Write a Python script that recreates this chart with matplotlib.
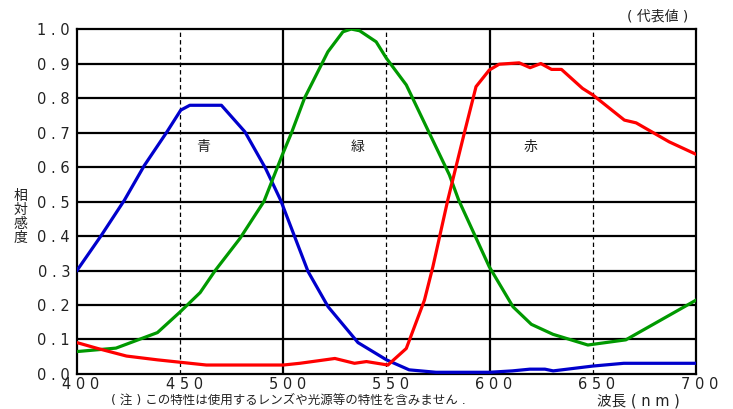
import matplotlib
matplotlib.use('Agg')
import matplotlib.pyplot as plt
from matplotlib.transforms import ScaledTranslation

plt.rcParams['font.family'] = ['DejaVu Sans', 'Noto Sans CJK JP']
JP = ['Noto Sans CJK JP', 'DejaVu Sans']

# spectral sensitivity (typical values)
blue_nm = [400, 411.6, 423, 432.6, 443.4, 450.3, 454.7, 470, 481.4, 491.4, 498.7,
           512, 521.7, 536.2, 550, 561, 574, 600, 611, 619.5, 626.8, 630.8, 650, 665, 700]
blue_val = [0.30, 0.40, 0.504, 0.604, 0.70, 0.765, 0.779, 0.779, 0.702, 0.596, 0.504,
            0.297, 0.195, 0.091, 0.041, 0.012, 0.005, 0.005, 0.009, 0.014, 0.014, 0.009, 0.023, 0.031, 0.031]

green_nm = [400, 418.9, 439, 450, 459.7, 467, 479, 490.6, 499.5, 503.9, 510.3, 521.6, 528.9,
            532.9, 537, 545, 550, 559.6, 570.8, 580.5, 585, 599.8, 611.3, 620.2, 630.7, 647.6, 666, 700]
green_val = [0.065, 0.075, 0.12, 0.18, 0.236, 0.30, 0.393, 0.50, 0.635, 0.698, 0.80, 0.934, 0.992,
             1.0, 0.995, 0.963, 0.915, 0.838, 0.698, 0.577, 0.504, 0.311, 0.195, 0.144, 0.115, 0.084, 0.099, 0.214]

red_nm = [400, 410, 424, 439, 462.7, 500, 508, 525, 534.5, 540.3, 550.7, 559.6, 568.4, 572.5,
          579.7, 587.7, 593.4, 599.8, 604.6, 614.3, 619.6, 624.8, 630, 634.8, 645, 650, 665.3, 671, 687, 700]
red_val = [0.091, 0.074, 0.052, 0.041, 0.026, 0.026, 0.031, 0.045, 0.031, 0.036, 0.026, 0.074, 0.214, 0.311,
           0.504, 0.698, 0.833, 0.881, 0.898, 0.902, 0.888, 0.90, 0.883, 0.883, 0.828, 0.809, 0.736, 0.728, 0.673, 0.637]

y_ticks = [0.0, 0.1, 0.2, 0.3, 0.4, 0.5, 0.6, 0.7, 0.8, 0.9, 1.0]
y_labels = ['0 . 0', '0 . 1', '0 . 2', '0 . 3', '0 . 4', '0 . 5', '0 . 6', '0 . 7', '0 . 8', '0 . 9', '1 . 0']
x_ticks = [400, 450, 500, 550, 600, 650, 700]
x_labels = ['4 0 0', '4 5 0', '5 0 0', '5 5 0', '6 0 0', '6 5 0', '7 0 0']

fig = plt.figure(figsize=(7.33, 4.09), dpi=100)
ax = fig.add_axes([0.105, 0.0856, 0.8445, 0.8434])
ax.set_xlim(400, 700)
ax.set_ylim(0, 1)

# grid
for yv in y_ticks[1:-1]:
    ax.axhline(yv, color='black', lw=1.6, zorder=1)
for xv in (500, 600):
    ax.axvline(xv, color='black', lw=1.6, zorder=1)
for xv in (450, 550, 650):
    ax.axvline(xv, color='black', lw=0.9, ls=(0, (3.5, 2.5)), zorder=1)

ax.plot(blue_nm, blue_val, color='#0000cc', lw=2.3, zorder=3)
ax.plot(green_nm, green_val, color='#009900', lw=2.3, zorder=3)
ax.plot(red_nm, red_val, color='#ff0000', lw=2.3, zorder=3)

for sp in ax.spines.values():
    sp.set_linewidth(1.6)
    sp.set_color('black')

ax.set_yticks(y_ticks)
ax.set_yticklabels(y_labels, fontsize=10.5, color='#222222')
ax.set_xticks(x_ticks)
ax.set_xticklabels(x_labels, fontsize=10.5, color='#222222')
ax.tick_params(length=0)
ax.tick_params(axis='y', pad=5)
ax.tick_params(axis='x', pad=2)
for lab in ax.get_xticklabels():
    lab.set_transform(lab.get_transform() + ScaledTranslation(0.04, 0, fig.dpi_scale_trans))

# band names
ax.text(461, 0.659, '青', fontsize=10, ha='center', va='center', color='#222222', family=JP)
ax.text(536, 0.659, '緑', fontsize=10, ha='center', va='center', color='#222222', family=JP)
ax.text(619.6, 0.659, '赤', fontsize=10, ha='center', va='center', color='#222222', family=JP)

fig.text(20 / 733, 1 - 217 / 409, '相\n対\n感\n度', fontsize=10, ha='center', va='center',
         linespacing=1.0, color='#222222', family=JP)
fig.text(688 / 733, 1 - 16 / 409, '( 代表値 )', fontsize=10, ha='right', va='center',
         color='#222222')
fig.text(111 / 733, 1 - 400 / 409, '( 注 ) この特性は使用するレンズや光源等の特性を含みません .',
         fontsize=9, ha='left', va='center', color='#222222')
fig.text(597 / 733, 1 - 401 / 409, '波長 ( n m )', fontsize=10.5, ha='left', va='center',
         color='#222222')

fig.savefig('out.png', dpi=100)
